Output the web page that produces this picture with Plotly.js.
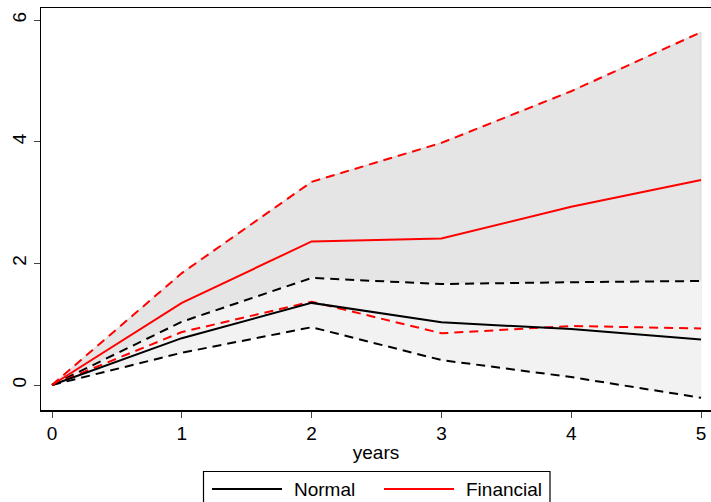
<!DOCTYPE html>
<html>
<head>
<meta charset="utf-8">
<script src="https://cdn.plot.ly/plotly-3.0.1.min.js"></script>
<style>html,body{margin:0;padding:0;background:#fff;}#chart{width:711px;height:502px;}</style>
</head>
<body>
<div id="chart"></div>
<script>
var years = [0, 1, 2, 3, 4, 5];
var normal = [0, 0.77, 1.35, 1.03, 0.92, 0.75];
var normalUpper = [0, 1.04, 1.76, 1.66, 1.69, 1.71];
var normalLower = [0, 0.53, 0.95, 0.41, 0.13, -0.21];
var financial = [0, 1.35, 2.36, 2.41, 2.93, 3.37];
var financialUpper = [0, 1.84, 3.34, 3.98, 4.83, 5.80];
var financialLower = [0, 0.87, 1.37, 0.85, 0.97, 0.93];
var seriesNames = ['Normal', 'Financial'];
var seriesColors = ['#000000', '#ff0000'];
var xTicks = [0, 1, 2, 3, 4, 5];
var yTicks = [0, 2, 4, 6];

function band(lower, upper, color, edge) {
  return {
    x: years.concat(years.slice().reverse()),
    y: lower.concat(upper.slice().reverse()),
    type: 'scatter', mode: 'lines', fill: 'toself', fillcolor: color,
    line: {color: edge, width: 1}, showlegend: false, hoverinfo: 'skip'
  };
}
function line(y, color, dash, name) {
  return {x: years, y: y, type: 'scatter', mode: 'lines', name: name,
    line: {color: color, width: 2, dash: dash}, showlegend: false};
}

var data = [
  band(financialLower, financialUpper, '#e5e5e5', '#d8d8d8'),
  band(normalLower, normalUpper, '#f2f2f2', '#f2f2f2'),
  line(normalUpper, seriesColors[0], '9px,6px', 'nu'),
  line(normalLower, seriesColors[0], '9px,6px', 'nl'),
  line(financialUpper, seriesColors[1], '9px,6px', 'fu'),
  line(financialLower, seriesColors[1], '9px,6px', 'fl'),
  line(normal, seriesColors[0], 'solid', seriesNames[0]),
  line(financial, seriesColors[1], 'solid', seriesNames[1])
];

var font = {family: 'Liberation Sans, Arial, sans-serif', size: 19, color: '#000'};

// plot area in pixels: x 41..711, y 8..410
function px(p) { return (p - 41) / 670; }
function py(p) { return (410 - p) / 402; }

var shapes = [
  {type: 'rect', xref: 'paper', yref: 'paper', x0: px(203.5), x1: px(550), y0: py(471.5), y1: py(510),
   line: {color: '#000', width: 1.2}, fillcolor: '#fff', layer: 'above'},
  {type: 'line', xref: 'paper', yref: 'paper', x0: px(212), x1: px(282), y0: py(489), y1: py(489),
   line: {color: seriesColors[0], width: 2}},
  {type: 'line', xref: 'paper', yref: 'paper', x0: px(384), x1: px(454), y0: py(489), y1: py(489),
   line: {color: seriesColors[1], width: 2}}
];
var annotations = [
  {xref: 'paper', yref: 'paper', x: px(292), y: py(489), xanchor: 'left', yanchor: 'middle',
   text: seriesNames[0], showarrow: false, font: font},
  {xref: 'paper', yref: 'paper', x: px(464), y: py(489), xanchor: 'left', yanchor: 'middle',
   text: seriesNames[1], showarrow: false, font: font}
];

var layout = {
  width: 711, height: 502,
  margin: {l: 41, r: 0, t: 8, b: 92, autoexpand: false},
  paper_bgcolor: '#fff', plot_bgcolor: '#fff',
  font: font,
  showlegend: false,
  xaxis: {
    range: [-0.085, 5.077], tickvals: xTicks, ticktext: xTicks.map(String),
    showgrid: false, zeroline: false, showline: true, mirror: true,
    linecolor: '#000', linewidth: 1.5, ticks: 'outside', ticklen: 6, tickcolor: '#444',
    tickfont: font,
    title: {text: 'years', font: font, standoff: 2}
  },
  yaxis: {
    range: [-0.411, 6.198], tickvals: yTicks, ticktext: yTicks.map(String),
    showgrid: false, zeroline: false, showline: true,
    linecolor: '#000', linewidth: 1.5, ticks: 'outside', ticklen: 6, tickcolor: '#444',
    tickfont: font, tickangle: -90
  },
  shapes: shapes,
  annotations: annotations
};
Plotly.newPlot('chart', data, layout, {displayModeBar: false, staticPlot: true});
</script>
</body>
</html>
